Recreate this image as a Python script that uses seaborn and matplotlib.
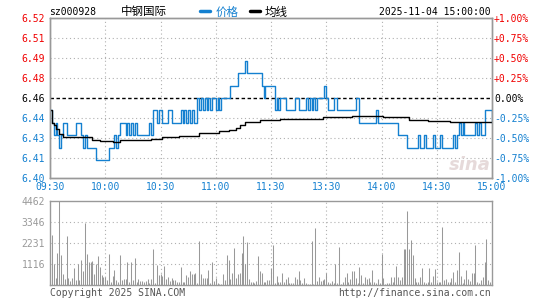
import matplotlib
matplotlib.use("Agg")
import matplotlib.pyplot as plt
import pandas as pd
import seaborn as sns

# ---------------- data ----------------
stock_code = "sz000928"
stock_name = "中钢国际"
timestamp = "2025-11-04 15:00:00"
prev_close = 6.46
time_labels = ["09:30", "10:00", "10:30", "11:00", "11:30", "13:30", "14:00", "14:30", "15:00"]
time_ticks = [0, 30, 60, 90, 120, 150, 180, 210, 240]
price_labels = ["6.40", "6.41", "6.43", "6.44", "6.46", "6.48", "6.49", "6.51", "6.52"]
pct_labels = ["-1.00%", "-0.75%", "-0.50%", "-0.25%", "0.00%", "+0.25%", "+0.50%", "+0.75%", "+1.00%"]
vol_ticks = [1116, 2231, 3346, 4462]
legend_labels = ["价格", "均线"]

prices = [
    6.45, 6.44, 6.43, 6.44, 6.43, 6.42, 6.43, 6.44, 6.44, 6.43,
    6.43, 6.43, 6.43, 6.43, 6.44, 6.44, 6.44, 6.43, 6.42, 6.43,
    6.42, 6.42, 6.42, 6.42, 6.42, 6.41, 6.41, 6.41, 6.41, 6.41,
    6.41, 6.41, 6.42, 6.42, 6.42, 6.43, 6.42, 6.43, 6.44, 6.44,
    6.44, 6.43, 6.44, 6.43, 6.44, 6.43, 6.44, 6.43, 6.43, 6.43,
    6.43, 6.43, 6.43, 6.43, 6.44, 6.43, 6.45, 6.45, 6.44, 6.45,
    6.45, 6.44, 6.44, 6.44, 6.45, 6.45, 6.44, 6.44, 6.44, 6.44,
    6.44, 6.45, 6.44, 6.45, 6.44, 6.45, 6.44, 6.45, 6.44, 6.44,
    6.46, 6.45, 6.46, 6.45, 6.46, 6.45, 6.46, 6.45, 6.46, 6.46,
    6.45, 6.46, 6.45, 6.46, 6.46, 6.46, 6.46, 6.46, 6.47, 6.47,
    6.47, 6.47, 6.48, 6.48, 6.48, 6.48, 6.49, 6.48, 6.48, 6.48,
    6.48, 6.48, 6.48, 6.48, 6.48, 6.47, 6.46, 6.47, 6.47, 6.47,
    6.47, 6.47, 6.45, 6.46, 6.45, 6.46, 6.46, 6.46, 6.45, 6.45,
    6.45, 6.45, 6.45, 6.46, 6.46, 6.45, 6.45, 6.45, 6.45, 6.46,
    6.45, 6.46, 6.45, 6.46, 6.45, 6.46, 6.46, 6.46, 6.46, 6.47,
    6.46, 6.45, 6.45, 6.45, 6.46, 6.46, 6.45, 6.45, 6.45, 6.45,
    6.45, 6.45, 6.45, 6.45, 6.45, 6.45, 6.46, 6.46, 6.44, 6.44,
    6.44, 6.44, 6.44, 6.44, 6.44, 6.44, 6.44, 6.45, 6.44, 6.44,
    6.44, 6.44, 6.44, 6.44, 6.44, 6.44, 6.44, 6.44, 6.44, 6.43,
    6.43, 6.43, 6.43, 6.43, 6.42, 6.42, 6.42, 6.42, 6.42, 6.42,
    6.43, 6.42, 6.42, 6.43, 6.42, 6.42, 6.42, 6.42, 6.43, 6.42,
    6.42, 6.42, 6.43, 6.42, 6.42, 6.42, 6.42, 6.42, 6.42, 6.43,
    6.42, 6.43, 6.44, 6.43, 6.44, 6.43, 6.43, 6.43, 6.43, 6.43,
    6.43, 6.44, 6.43, 6.44, 6.43, 6.43, 6.45, 6.45, 6.45, 6.45,
    6.44,
]

avg_prices = [
    6.4500, 6.4400, 6.4380, 6.4350, 6.4350, 6.4310, 6.4310, 6.4285, 6.4285, 6.4285,
    6.4285, 6.4285, 6.4285, 6.4285, 6.4285, 6.4285, 6.4285, 6.4285, 6.4285, 6.4285,
    6.4285, 6.4285, 6.4285, 6.4262, 6.4262, 6.4262, 6.4262, 6.4253, 6.4253, 6.4253,
    6.4253, 6.4253, 6.4253, 6.4253, 6.4245, 6.4245, 6.4245, 6.4245, 6.4258, 6.4258,
    6.4258, 6.4258, 6.4258, 6.4258, 6.4258, 6.4258, 6.4258, 6.4258, 6.4258, 6.4258,
    6.4258, 6.4258, 6.4258, 6.4258, 6.4258, 6.4272, 6.4272, 6.4272, 6.4272, 6.4272,
    6.4272, 6.4282, 6.4282, 6.4282, 6.4282, 6.4282, 6.4282, 6.4282, 6.4282, 6.4282,
    6.4293, 6.4293, 6.4293, 6.4293, 6.4293, 6.4293, 6.4293, 6.4293, 6.4293, 6.4293,
    6.4293, 6.4315, 6.4315, 6.4315, 6.4315, 6.4315, 6.4315, 6.4315, 6.4315, 6.4315,
    6.4315, 6.4315, 6.4330, 6.4330, 6.4330, 6.4330, 6.4330, 6.4340, 6.4340, 6.4340,
    6.4340, 6.4358, 6.4358, 6.4378, 6.4378, 6.4378, 6.4404, 6.4404, 6.4404, 6.4404,
    6.4404, 6.4404, 6.4404, 6.4404, 6.4420, 6.4420, 6.4420, 6.4420, 6.4420, 6.4420,
    6.4420, 6.4420, 6.4420, 6.4420, 6.4420, 6.4428, 6.4428, 6.4428, 6.4428, 6.4428,
    6.4428, 6.4428, 6.4428, 6.4428, 6.4428, 6.4428, 6.4428, 6.4428, 6.4428, 6.4428,
    6.4428, 6.4428, 6.4428, 6.4428, 6.4428, 6.4428, 6.4428, 6.4428, 6.4444, 6.4444,
    6.4444, 6.4444, 6.4444, 6.4444, 6.4444, 6.4444, 6.4444, 6.4444, 6.4444, 6.4444,
    6.4444, 6.4444, 6.4444, 6.4444, 6.4455, 6.4455, 6.4455, 6.4455, 6.4455, 6.4455,
    6.4455, 6.4455, 6.4455, 6.4455, 6.4455, 6.4455, 6.4455, 6.4455, 6.4455, 6.4455,
    6.4455, 6.4444, 6.4444, 6.4444, 6.4444, 6.4444, 6.4444, 6.4444, 6.4444, 6.4444,
    6.4444, 6.4444, 6.4444, 6.4444, 6.4444, 6.4422, 6.4422, 6.4422, 6.4422, 6.4422,
    6.4422, 6.4422, 6.4422, 6.4422, 6.4422, 6.4414, 6.4414, 6.4414, 6.4414, 6.4414,
    6.4414, 6.4414, 6.4414, 6.4414, 6.4414, 6.4414, 6.4414, 6.4406, 6.4406, 6.4406,
    6.4406, 6.4406, 6.4406, 6.4406, 6.4406, 6.4406, 6.4406, 6.4406, 6.4406, 6.4406,
    6.4406, 6.4406, 6.4406, 6.4406, 6.4406, 6.4406, 6.4406, 6.4406, 6.4406, 6.4406,
    6.4406,
]

volumes = [
    210, 2655, 1115, 390, 1700, 4462, 1594, 584, 320, 2602,
    354, 230, 354, 920, 265, 1115, 265, 1328, 743, 3275,
    1646, 1204, 1240, 1274, 584, 1097, 1540, 938, 531, 407,
    443, 265, 1629, 177, 478, 797, 265, 177, 1594, 265,
    300, 300, 1240, 177, 1204, 248, 1434, 177, 300, 212,
    230, 177, 195, 300, 124, 300, 1912, 124, 1062, 531,
    566, 496, 1009, 300, 407, 230, 354, 265, 248, 177,
    177, 974, 177, 177, 531, 424, 743, 584, 584, 655,
    124, 2336, 584, 390, 390, 390, 797, 124, 1204, 212,
    354, 89, 53, 53, 566, 265, 1594, 1328, 300, 620,
    1947, 390, 566, 620, 1682, 2602, 1097, 2266, 300, 177,
    177, 124, 212, 1540, 743, 655, 142, 142, 265, 265,
    920, 2124, 124, 496, 142, 177, 655, 142, 300, 443,
    89, 124, 89, 407, 300, 743, 265, 89, 354, 89,
    53, 53, 2354, 53, 3009, 212, 407, 230, 265, 300,
    655, 177, 124, 212, 89, 1115, 124, 2036, 53, 177,
    407, 620, 177, 300, 743, 743, 390, 124, 938, 531,
    124, 407, 300, 390, 177, 797, 142, 89, 300, 124,
    1646, 390, 53, 124, 124, 443, 177, 443, 1009, 443,
    265, 407, 1912, 1912, 3930, 1912, 2390, 1594, 354, 177,
    142, 407, 920, 142, 89, 142, 920, 177, 478, 832,
    177, 177, 142, 3062, 265, 300, 142, 177, 354, 673,
    177, 797, 1735, 496, 124, 300, 797, 300, 230, 620,
    620, 2124, 177, 89, 265, 443, 1204, 2443, 265, 177,
    390,
]

# ---------------- style ----------------
W, H = 545, 300
BLUE = "#1480d0"
RED = "#f00000"
GRAY = "#999999"
GRID = "#b0b0b0"
MONO = ["DejaVu Sans Mono", "Noto Sans CJK SC"]
CJK = ["Noto Sans CJK SC", "DejaVu Sans"]

sns.set_style("white")
plt.rcParams["font.family"] = MONO

fig = plt.figure(figsize=(W / 100, H / 100), dpi=100)


def fx(x):
    return x / W


def fy(y):
    return 1 - y / H


ax = fig.add_axes([fx(50), fy(178), 442 / W, 160 / H])
ax_v = fig.add_axes([fx(50), fy(285), 442 / W, 84 / H])

minutes = list(range(len(prices)))
df = pd.DataFrame({"minute": minutes, "price": prices, "avg": avg_prices, "volume": volumes})

lo, hi = prev_close * 0.99, prev_close * 1.01
levels = [prev_close * (1 + k * 0.0025) for k in range(-4, 5)]

# grid
dot = (0, (1, 2.5))
for k, lv in enumerate(levels):
    if k in (0, 8):
        continue
    if k == 4:
        ax.axhline(lv, color="black", lw=1.0, ls=(0, (2.5, 1.8)), zorder=2)
    else:
        ax.axhline(lv, color=GRID, lw=0.8, ls=dot, zorder=1)
for t in time_ticks[1:-1]:
    ax.axvline(t, color=GRID, lw=0.8, ls=dot, zorder=1)
    ax_v.axvline(t, color=GRID, lw=0.8, ls=dot, zorder=1)
for v in vol_ticks[:-1]:
    ax_v.axhline(v, color=GRID, lw=0.8, ls=dot, zorder=1)

# watermark
ax.text(228, lo + (hi - lo) * 0.08, "sina", fontsize=13, fontweight="bold", style="italic",
        color="#e6dada", ha="center", va="center", family="DejaVu Sans", zorder=1.5)

sns.lineplot(data=df, x="minute", y="price", ax=ax, color=BLUE, lw=1.0,
             drawstyle="steps-post", zorder=3, legend=False)
sns.lineplot(data=df, x="minute", y="avg", ax=ax, color="black", lw=1.0,
             drawstyle="steps-post", zorder=4, legend=False)

ax.set_xlim(0, 240)
ax.set_ylim(lo, hi)
ax.set_xlabel("")
ax.set_ylabel("")
ax.set_xticks(time_ticks)
ax.set_xticklabels(time_labels, fontsize=7, color=BLUE)
ax.set_yticks(levels)
ax.set_yticklabels(price_labels, fontsize=7)
for k, lab in enumerate(ax.get_yticklabels()):
    lab.set_color(RED if k > 4 else ("black" if k == 4 else BLUE))
ax.tick_params(axis="both", length=0)
ax.tick_params(axis="y", pad=3.5)
ax.tick_params(axis="x", pad=3.2)

ax_r = ax.twinx()
ax_r.set_ylim(lo, hi)
ax_r.set_yticks(levels)
ax_r.set_yticklabels(pct_labels, fontsize=7)
for k, lab in enumerate(ax_r.get_yticklabels()):
    lab.set_color(RED if k > 4 else ("black" if k == 4 else BLUE))
ax_r.tick_params(axis="y", length=0, pad=1.5)

for a in (ax, ax_r, ax_v):
    for s in a.spines.values():
        s.set_color(GRAY)
        s.set_linewidth(1.0)

# volume
ax_v.vlines(df["minute"], 0, df["volume"], color=GRAY, lw=0.75, zorder=3)
ax_v.set_xlim(0, 240)
ax_v.set_ylim(0, 4462)
ax_v.set_xticks([])
ax_v.set_yticks(vol_ticks)
ax_v.set_yticklabels([str(v) for v in vol_ticks], fontsize=7, color=GRAY)
ax_v.tick_params(axis="y", length=0, pad=3.5)

# header texts
fig.text(fx(49), fy(12), stock_code, fontsize=7, color="black", va="center", ha="left")
fig.text(fx(121), fy(12), stock_name, fontsize=8.3, color="black", va="center", ha="left", family=CJK)
fig.lines.append(plt.Line2D([fx(200), fx(210)], [fy(11), fy(11)], transform=fig.transFigure,
                            color=BLUE, lw=2.5))
fig.text(fx(216), fy(12), legend_labels[0], fontsize=8.3, color=BLUE, va="center", ha="left", family=CJK)
fig.lines.append(plt.Line2D([fx(250), fx(260)], [fy(11), fy(11)], transform=fig.transFigure,
                            color="black", lw=2.5))
fig.text(fx(265), fy(12), legend_labels[1], fontsize=8.3, color="black", va="center", ha="left", family=CJK)
fig.text(fx(491), fy(12), timestamp, fontsize=7, color="black", va="center", ha="right")

# footer texts
fig.text(fx(50), fy(293), "Copyright 2025 SINA.COM", fontsize=7, color="#555555", va="center", ha="left")
fig.text(fx(491), fy(293), "http://finance.sina.com.cn", fontsize=7, color="#555555", va="center", ha="right")

fig.savefig("out.png", dpi=100)
